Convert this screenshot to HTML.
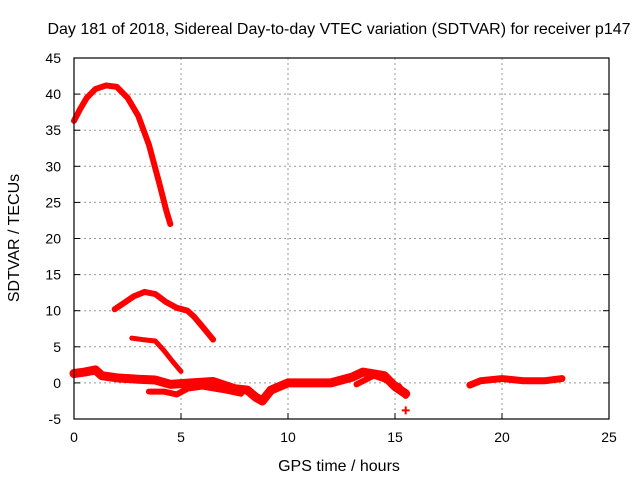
<!DOCTYPE html>
<html><head><meta charset="utf-8"><style>
body{margin:0;background:#fff}
svg text{font-family:"Liberation Sans",sans-serif;font-size:14px;fill:#000}
svg text.big{font-size:16px}
</style></head><body>
<svg id="chart" width="640" height="480">
<text class="big" x="339" y="34" text-anchor="middle">Day 181 of 2018, Sidereal Day-to-day VTEC variation (SDTVAR) for receiver p147</text>
<text class="big" x="339" y="471" text-anchor="middle">GPS time / hours</text>
<text class="big" transform="translate(19,238) rotate(-90)" text-anchor="middle">SDTVAR / TECUs</text>
<g id="grid"></g><g id="marks"></g>
<rect x="74" y="58" width="535" height="361" fill="none" stroke="#000" stroke-width="1.2"/>
</svg>
<script>
const xTicks=[0,5,10,15,20,25];
const yTicks=[-5,0,5,10,15,20,25,30,35,40,45];
const seriesArc=[[0,36.3],[0.3,38],[0.6,39.5],[1,40.7],[1.5,41.2],[2,41],[2.5,39.5],[3,37],[3.5,33],[4,27.5],[4.3,24],[4.5,22]];
const seriesUpper=[[1.9,10.2],[2.3,11],[2.8,12],[3.3,12.6],[3.8,12.3],[4.3,11.2],[4.8,10.4],[5.3,10],[5.6,9.2],[6,7.8],[6.5,6]];
const seriesMid=[[2.7,6.2],[3.2,6],[3.8,5.8],[4.2,4.5],[4.6,3],[5,1.6]];
const seriesBase=[[0,1.3],[0.5,1.5],[1,1.8],[1.3,1.0],[2,0.7],[3,0.5],[3.8,0.4],[4.5,-0.2],[5.5,0],[6.5,0.2],[7.5,-0.8],[8.1,-1],[8.5,-2],[8.8,-2.5],[9.2,-1],[10,0],[11,0],[12,0],[13,0.8],[13.5,1.5],[14.5,1],[15,-0.5],[15.5,-1.5]];
const seriesLow=[[3.5,-1.2],[4.2,-1.2],[4.8,-1.6],[5.3,-0.8],[6,-0.5],[7,-1],[7.8,-1.5]];
const seriesDip=[[13.2,-0.2],[14,1],[14.5,0.5],[15.2,-0.5],[15.5,-1.8]];
const seriesLate=[[18.5,-0.3],[19,0.3],[20,0.6],[21,0.3],[22,0.3],[22.8,0.6]];
const outliers=[[15.5,-3.8]];
const X0=74,X1=609,Y0=419,Y1=58;
const sx=v=>X0+(v-0)/(25-0)*(X1-X0);
const sy=v=>Y0-(v+5)/(50)*(Y0-Y1);
const NS="http://www.w3.org/2000/svg";
const grid=document.getElementById('grid'),marks=document.getElementById('marks');
function mk(t,a,p){const e=document.createElementNS(NS,t);for(const k in a)e.setAttribute(k,a[k]);p.appendChild(e);return e;}
xTicks.forEach(t=>{const x=sx(t);
 if(t>0&&t<25){const l=mk('line',{x1:x,x2:x,y1:Y1,y2:Y0,stroke:'#999','stroke-dasharray':'2,3'},grid);
 
 }
 mk('line',{x1:x,x2:x,y1:Y0,y2:Y0-6,stroke:'#000'},grid);
 const tx=mk('text',{x:x,y:Y0+23,'text-anchor':'middle'},grid);tx.textContent=t;
 
 });
yTicks.forEach(t=>{const y=sy(t);
 if(t>-5&&t<45){const l=mk('line',{x1:X0,x2:X1,y1:y,y2:y,stroke:'#999','stroke-dasharray':'2,3'},grid);
 
 }
 mk('line',{x1:X0,x2:X0+6,y1:y,y2:y,stroke:'#000'},grid);
 mk('line',{x1:X1,x2:X1-6,y1:y,y2:y,stroke:'#000'},grid);
 const tx=mk('text',{x:X0-13,y:y+5,'text-anchor':'end'},grid);tx.textContent=t;
 
 });
function line(d,w,name){const p=mk('polyline',{points:d.map(q=>sx(q[0])+','+sy(q[1])).join(' '),fill:'none',stroke:'#f00','stroke-width':w,'stroke-linejoin':'round','stroke-linecap':'round'},marks);
 
 }
line(seriesArc,6,'series-arc');
line(seriesUpper,6,'series-upper');
line(seriesMid,5,'series-mid');
line(seriesBase,9,'series-base');
line(seriesLow,6,'series-low');
line(seriesDip,6,'series-dip');
line(seriesLate,7,'series-late');
outliers.forEach(o=>{const x=sx(o[0]),y=sy(o[1]);
 const p=mk('path',{d:`M${x-4},${y}H${x+4}M${x},${y-4}V${y+4}`,stroke:'#f00','stroke-width':2},marks);
 
 });
</script>
</body></html>
